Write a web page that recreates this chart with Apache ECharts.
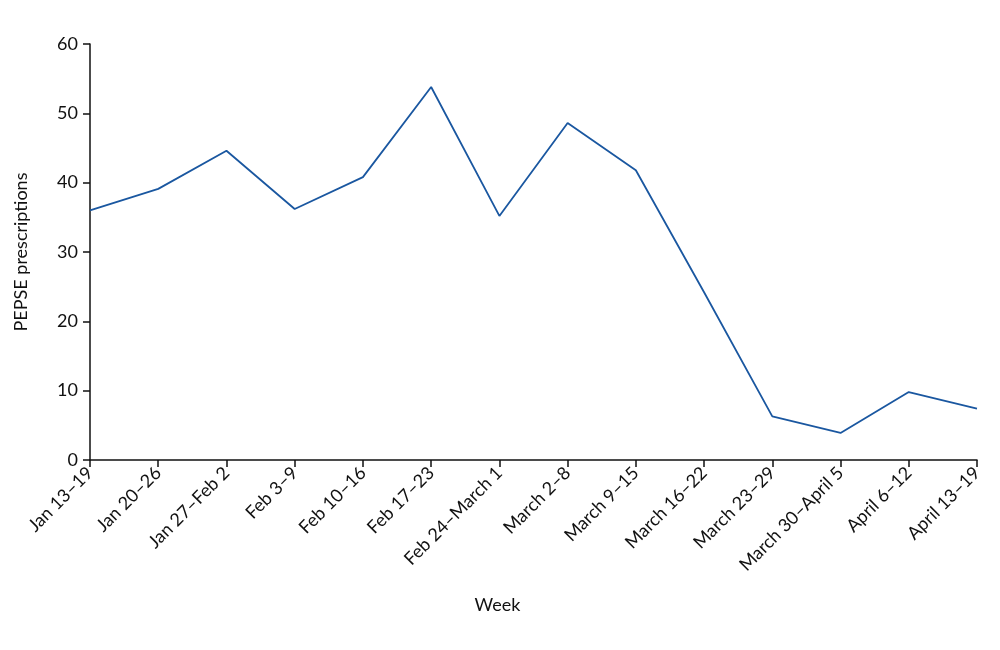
<!DOCTYPE html>
<html>
<head>
<meta charset="UTF-8">
<style>html,body{margin:0;background:#fff}#main{width:1000px;height:650px}</style>
</head>
<body>
<div id="main"></div>
<script src="https://cdn.jsdelivr.net/npm/echarts@6/dist/echarts.min.js"></script>
<script>
var weeks = ['Jan 13–19','Jan 20–26','Jan 27–Feb 2','Feb 3–9','Feb 10–16','Feb 17–23','Feb 24–March 1','March 2–8','March 9–15','March 16–22','March 23–29','March 30–April 5','April 6–12','April 13–19'];
var prescriptions = [36, 39.1, 44.6, 36.2, 40.8, 53.8, 35.2, 48.6, 41.8, 24.2, 6.3, 3.9, 9.8, 7.4];

var chart = echarts.init(document.getElementById('main'));
var font = 'Lato';
chart.setOption({
  animation: false,
  grid: {left: 90, right: 23, top: 44, bottom: 190},
  xAxis: {
    type: 'category', data: weeks, boundaryGap: false,
    name: 'Week', nameLocation: 'middle', nameGap: 136,
    nameTextStyle: {fontFamily: font, fontSize: 18, color: '#111', padding: [0, 72, 0, 0]},
    axisLine: {lineStyle: {color: '#111', width: 1.5}},
    axisTick: {alignWithLabel: true, length: 7, lineStyle: {color: '#111', width: 1.5}},
    axisLabel: {rotate: 45, interval: 0, fontFamily: font, fontSize: 18, color: '#111', margin: 10}
  },
  yAxis: {
    type: 'value', min: 0, max: 60, interval: 10,
    name: 'PEPSE prescriptions', nameLocation: 'middle', nameGap: 60,
    nameTextStyle: {fontFamily: font, fontSize: 18, color: '#111'},
    axisLine: {show: true, lineStyle: {color: '#111', width: 1.5}},
    axisTick: {show: true, length: 7, lineStyle: {color: '#111', width: 1.5}},
    axisLabel: {fontFamily: font, fontSize: 18, color: '#111', margin: 12},
    splitLine: {show: false}
  },
  series: [{
    type: 'line', data: prescriptions, symbol: 'none',
    lineStyle: {color: '#1a57a0', width: 1.8}
  }]
});
</script>
</body>
</html>
